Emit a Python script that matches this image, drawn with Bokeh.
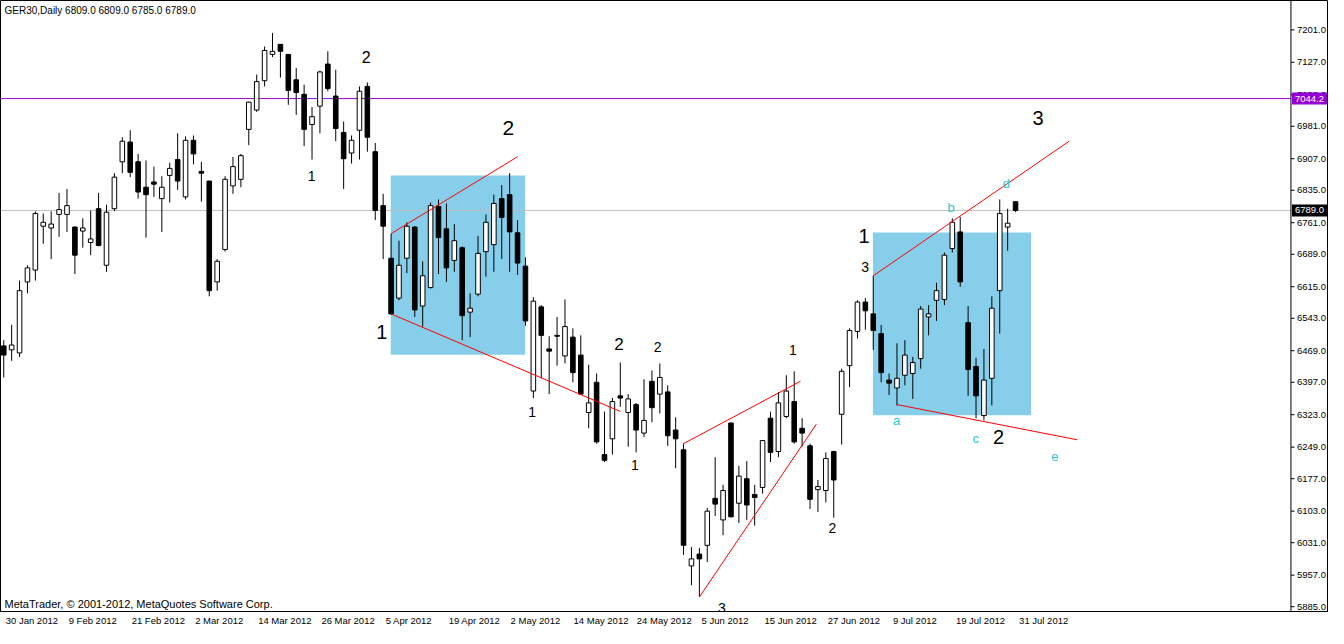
from bokeh.plotting import figure
from bokeh.models import Range1d, FixedTicker, Label, Span, ColumnDataSource
from bokeh.embed import file_html
from bokeh.resources import INLINE
from bokeh.core.properties import value

# ---- data (GER30 daily, 30 Jan 2012 .. 31 Jul 2012) ----
date_labels = ["30 Jan 2012", "9 Feb 2012", "21 Feb 2012", "2 Mar 2012", "14 Mar 2012",
               "26 Mar 2012", "5 Apr 2012", "19 Apr 2012", "2 May 2012", "14 May 2012",
               "24 May 2012", "5 Jun 2012", "15 Jun 2012", "27 Jun 2012", "9 Jul 2012",
               "19 Jul 2012", "31 Jul 2012"]
date_label_bars = [0, 8, 16, 24, 32, 40, 48, 56, 64, 72, 80, 88, 96, 104, 112, 120, 128]

opens = [6480, 6471, 6464, 6626, 6653, 6753, 6749, 6780, 6780, 6751, 6742, 6716, 6793, 6664, 6793, 6900,
         6945, 6900, 6842, 6854, 6816, 6869, 6905, 6820, 6949, 6878, 6856, 6626, 6700, 6845, 6860, 6974,
         7018, 7085, 7145, 7168, 7145, 7087, 7054, 6985, 7027, 7123, 7050, 6967, 6920, 6972, 7072, 6923,
         6800, 6680, 6589, 6680, 6751, 6571, 6613, 6798, 6747, 6675, 6704, 6557, 6598, 6695, 6711, 6816,
         6825, 6738, 6662, 6377, 6569, 6473, 6504, 6457, 6500, 6459, 6328, 6397, 6232, 6268, 6366, 6328,
         6346, 6281, 6399, 6370, 6375, 6288, 6243, 5978, 6005, 6025, 6132, 6083, 6304, 6121, 6177, 6141,
         6157, 6315, 6239, 6319, 6353, 6292, 6252, 6152, 6150, 6239, 6324, 6435, 6513, 6580, 6553, 6508,
         6402, 6384, 6413, 6417, 6451, 6546, 6584, 6586, 6702, 6740, 6533, 6433, 6321, 6406, 6606, 6751,
         6809]
highs = [6493, 6528, 6629, 6664, 6787, 6782, 6787, 6829, 6838, 6753, 6771, 6789, 6829, 6802, 6874, 6956,
         6972, 6918, 6903, 6889, 6867, 6898, 6965, 6958, 6960, 6900, 6857, 6678, 6867, 6911, 6918, 7037,
         7099, 7163, 7194, 7168, 7146, 7114, 7076, 7025, 7108, 7152, 7110, 6992, 6960, 7072, 7081, 6943,
         6827, 6736, 6720, 6762, 6753, 6673, 6807, 6814, 6805, 6758, 6707, 6600, 6731, 6780, 6825, 6847,
         6874, 6767, 6682, 6591, 6573, 6502, 6546, 6586, 6520, 6504, 6437, 6417, 6330, 6361, 6442, 6370,
         6350, 6404, 6424, 6440, 6390, 6317, 6257, 6021, 6019, 6110, 6226, 6163, 6305, 6206, 6217, 6163,
         6265, 6330, 6375, 6413, 6422, 6315, 6257, 6174, 6237, 6241, 6428, 6520, 6584, 6589, 6640, 6528,
         6417, 6486, 6493, 6455, 6571, 6573, 6624, 6693, 6771, 6774, 6571, 6453, 6473, 6593, 6814, 6793,
         6809]
lows = [6408, 6446, 6455, 6600, 6629, 6713, 6678, 6729, 6740, 6644, 6704, 6687, 6707, 6649, 6787, 6874,
        6865, 6816, 6727, 6820, 6740, 6807, 6836, 6814, 6894, 6809, 6593, 6606, 6695, 6827, 6842, 6938,
        7014, 7072, 7139, 7092, 7030, 7007, 6936, 6905, 6965, 7061, 6947, 6838, 6896, 6905, 6923, 6767,
        6678, 6551, 6584, 6646, 6546, 6524, 6611, 6644, 6626, 6649, 6493, 6500, 6593, 6638, 6649, 6678,
        6649, 6642, 6526, 6361, 6406, 6370, 6435, 6440, 6397, 6368, 6292, 6257, 6215, 6232, 6341, 6250,
        6237, 6272, 6306, 6326, 6252, 6201, 6003, 5934, 5907, 5987, 6092, 6048, 6089, 6076, 6083, 6070,
        6143, 6215, 6226, 6315, 6257, 6250, 6108, 6101, 6123, 6088, 6255, 6386, 6497, 6517, 6471, 6397,
        6368, 6344, 6390, 6359, 6428, 6504, 6537, 6573, 6693, 6615, 6366, 6315, 6310, 6344, 6508, 6697,
        6785]
closes = [6459, 6482, 6606, 6658, 6782, 6762, 6758, 6791, 6800, 6687, 6749, 6724, 6709, 6785, 6865, 6947,
          6876, 6831, 6825, 6849, 6842, 6885, 6856, 6949, 6918, 6874, 6606, 6673, 6860, 6889, 6914, 7036,
          7083, 7154, 7152, 7152, 7063, 7058, 6974, 7003, 7105, 7067, 6976, 6907, 6949, 7061, 6956, 6789,
          6753, 6553, 6664, 6753, 6562, 6640, 6800, 6727, 6658, 6720, 6549, 6566, 6691, 6762, 6805, 6773,
          6740, 6669, 6537, 6582, 6504, 6468, 6502, 6524, 6419, 6370, 6350, 6261, 6219, 6353, 6361, 6359,
          6288, 6310, 6339, 6408, 6275, 6268, 6025, 5994, 5994, 6103, 6119, 6150, 6090, 6183, 6117, 6134,
          6264, 6237, 6350, 6377, 6261, 6281, 6130, 6159, 6223, 6174, 6422, 6515, 6580, 6560, 6515, 6419,
          6395, 6406, 6459, 6442, 6564, 6553, 6606, 6687, 6762, 6626, 6426, 6366, 6402, 6566, 6782, 6760,
          6789]

price_ticks = [7201.0, 7127.0, 7053.0, 6981.0, 6907.0, 6835.0, 6761.0, 6689.0, 6615.0, 6543.0,
               6469.0, 6397.0, 6323.0, 6249.0, 6177.0, 6103.0, 6031.0, 5957.0, 5885.0]
price_tick_labels = ["7201.0", "7127.0", "7053.0", "6981.0", "6907.0", "6835.0", "6761.0", "6689.0",
                     "6615.0", "6543.0", "6469.0", "6397.0", "6323.0", "6249.0", "6177.0", "6103.0",
                     "6031.0", "5957.0", "5885.0"]

level_purple = 7044.2
last_price = 6789.0

# analysis objects: rectangles (bar from, bar to, price top, price bottom)
box_left = [48.96, 109.96]
box_right = [65.96, 129.96]
box_top = [6869.0, 6738.5]
box_bottom = [6459.5, 6321.5]

# trend lines (bar0, price0, bar1, price1)
tl_x0 = [49.0, 49.0, 86.0, 88.0, 110.0, 113.0]
tl_y0 = [6736.0, 6553.0, 6257.0, 5907.0, 6640.0, 6346.0]
tl_x1 = [65.0, 78.0, 100.8, 102.8, 134.8, 135.8]
tl_y1 = [6911.5, 6330.4, 6399.4, 6301.4, 6947.2, 6265.8]

# wave labels
wave_text = ["1", "2", "2", "1", "1", "2", "2", "1", "3", "1", "2", "1", "3", "3", "2"]
wave_x = [38.96, 45.84, 63.84, 47.84, 66.84, 77.84, 82.71, 79.84, 90.84, 99.84, 104.84, 108.84, 108.96, 130.84, 125.84]
wave_y = [6867, 7139, 6976, 6511, 6330, 6484, 6477, 6208, 5883, 6471, 6065, 6731, 6660, 7001, 6272]
wave_size = ["14px", "16px", "21px", "20px", "14px", "17px", "14px", "14px", "14px", "14px", "14px", "20px", "14px", "20px", "20px"]

abc_text = ["a", "b", "c", "d", "e"]
abc_x = [112.96, 119.84, 122.96, 126.84, 132.96]
abc_y = [6310, 6796, 6268, 6851, 6228]

# ---- figure ----
FONT = "Liberation Sans"
W, H = 1328, 628
X_LEFT, SCALE_X, X_RIGHT = -0.41, 162.84, 167.59   # chart area | price scale column
p = figure(width=W, height=H, output_backend="svg", toolbar_location=None,
           x_range=Range1d(X_LEFT, X_RIGHT), y_range=Range1d(5874, 7268),
           y_axis_location=None, min_border_left=0, min_border_top=0,
           min_border_bottom=0, min_border_right=0)
p.background_fill_color = "white"
p.border_fill_color = "white"
p.outline_line_color = "black"
p.xgrid.visible = False
p.ygrid.visible = False

# rectangles
p.quad(left=box_left, right=box_right, top=box_top, bottom=box_bottom,
       fill_color="#87CEEB", line_color=None)

# horizontal levels (chart area only)
p.segment(x0=[X_LEFT, X_LEFT], y0=[level_purple, last_price], x1=[SCALE_X, SCALE_X],
          y1=[level_purple, last_price], line_color=["#9400D3", "#C0C0C0"], line_width=1)

# candles
idx = list(range(len(opens)))
src = ColumnDataSource(dict(
    x=idx,
    top=[max(o, c) for o, c in zip(opens, closes)],
    bottom=[min(o, c) for o, c in zip(opens, closes)],
    high=highs, low=lows,
    fill=["white" if c > o else "black" for o, c in zip(opens, closes)],
))
p.segment(x0="x", y0="high", x1="x", y1="low", source=src, line_color="black", line_width=1)
p.vbar(x="x", width=0.58, top="top", bottom="bottom", source=src,
       fill_color="fill", line_color="black", line_width=1)

# trend lines
p.segment(x0=tl_x0, y0=tl_y0, x1=tl_x1, y1=tl_y1, line_color="red", line_width=1)

# labels
p.text(x=wave_x, y=wave_y, text=wave_text, text_font_size=wave_size, text_font=value(FONT),
       text_color="black", text_align="center", text_baseline="middle")
p.text(x=abc_x, y=abc_y, text=abc_text, text_font_size="13px", text_font=value(FONT),
       text_color="#2CC8D8", text_align="center", text_baseline="middle")

p.add_layout(Label(x=0.1, y=7245.5, text="GER30,Daily  6809.0 6809.0 6785.0 6789.0",
                   text_font=FONT, text_font_size="10px", text_color="black",
                   text_baseline="middle", text_align="left"))
p.add_layout(Label(x=0.1, y=5891.7, text="MetaTrader, \u00a9 2001-2012, MetaQuotes Software Corp.",
                   text_font=FONT, text_font_size="11px", text_color="black",
                   text_baseline="middle", text_align="left"))

# price scale column (right)
p.add_layout(Span(location=SCALE_X, dimension="height", line_color="black", line_width=1))
n_t = len(price_ticks)
p.segment(x0=[SCALE_X] * n_t, y0=price_ticks, x1=[SCALE_X + 0.45] * n_t, y1=price_ticks,
          line_color="black", line_width=1)
p.text(x=[SCALE_X + 0.75] * n_t, y=price_ticks, text=price_tick_labels, text_font=value(FONT),
       text_font_size="9.5px", text_color="black", text_align="left", text_baseline="middle")

# price tags on the scale
p.add_layout(Label(x=SCALE_X, y=level_purple, text="7044.2", text_font=FONT, text_font_size="9.5px",
                   text_color="white", background_fill_color="#9400D3", text_baseline="middle",
                   text_align="left", x_offset=1, padding=3))
p.add_layout(Label(x=SCALE_X, y=last_price, text="6789.0", text_font=FONT, text_font_size="9.5px",
                   text_color="white", background_fill_color="black", text_baseline="middle",
                   text_align="left", x_offset=1, padding=3))

# time scale: labels start just right of their bar
xa = p.xaxis[0]
px_per_bar = W / (X_RIGHT - X_LEFT)
label_pos = [round(b + (len(t) * 4.75 / 2 + 2) / px_per_bar, 3) for b, t in zip(date_label_bars, date_labels)]
xa.ticker = FixedTicker(ticks=label_pos)
xa.major_label_overrides = {pos: t for pos, t in zip(label_pos, date_labels)}
xa.major_label_text_font = FONT
xa.major_label_text_font_size = "9.5px"
xa.major_label_text_color = "black"
xa.major_label_standoff = 3
xa.major_tick_in = 0
xa.major_tick_out = 0
xa.minor_tick_out = 0
xa.minor_tick_in = 0
xa.axis_line_color = "black"

open("out.html", "w").write(file_html(p, INLINE))
